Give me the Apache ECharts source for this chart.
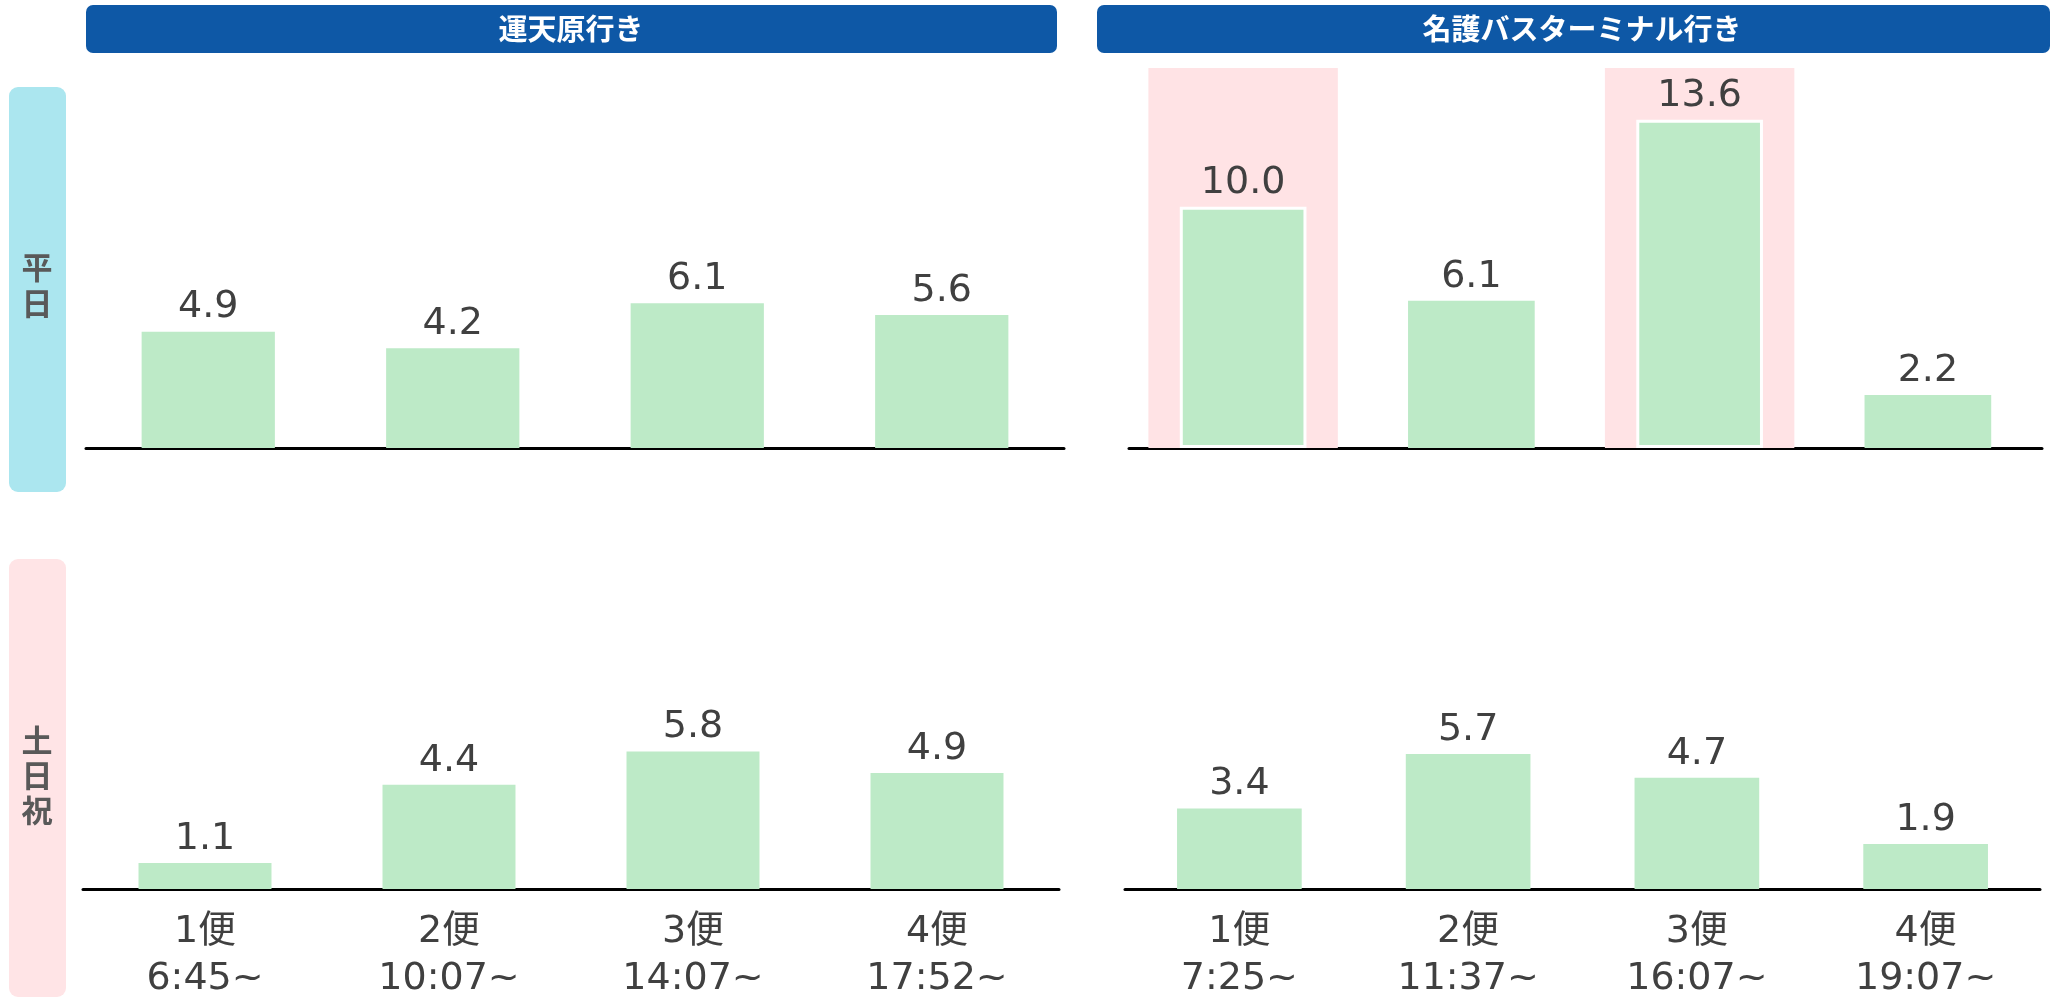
<!DOCTYPE html>
<html>
<head>
<meta charset="utf-8">
<style>
  html, body { margin: 0; padding: 0; background: #ffffff; }
  #chart { width: 2066px; height: 998px; }
</style>
<script src="https://cdn.jsdelivr.net/npm/echarts@6/dist/echarts.min.js"></script>
</head>
<body>
<div id="chart"></div>
<script>
// Departure slots for each direction
const routeTitles = ['運天原行き', '名護バスターミナル行き'];
const dayTypes = ['平日', '土日祝'];
const categoriesUntenbaru = ['1便\n6:45~', '2便\n10:07~', '3便\n14:07~', '4便\n17:52~'];
const categoriesNago = ['1便\n7:25~', '2便\n11:37~', '3便\n16:07~', '4便\n19:07~'];

// Average passengers per trip
const weekdayUntenbaru = [4.9, 4.2, 6.1, 5.6];
const weekdayNago = [10.0, 6.1, 13.6, 2.2];
const holidayUntenbaru = [1.1, 4.4, 5.8, 4.9];
const holidayNago = [3.4, 5.7, 4.7, 1.9];

// Trips emphasised with a shaded band (weekday, Nago direction)
const highlightedNago = [true, false, true, false];

const Y_MAX = 16;
const Y_MAX_WEEKDAY_NAGO = 15.75;
const FONT = '"DejaVu Sans", "Noto Sans CJK JP", sans-serif';
const CJK = '"Noto Sans CJK JP", sans-serif';
const TEXT_COLOR = '#404040';
const BAR_COLOR = '#BDEAC7';

const grids = [
  { left: 86,   right: 1002, top: 68,  height: 380 },  // weekday, 運天原
  { left: 1129, right: 24,   top: 68,  height: 380 },  // weekday, 名護
  { left: 83,   right: 1007, top: 510, height: 379 },  // holiday, 運天原
  { left: 1125, right: 26,   top: 510, height: 379 }   // holiday, 名護
].map(g => Object.assign({ outerBoundsMode: 'none', containLabel: false }, g));

function categoryAxis(gridIndex, data, showLabels) {
  return {
    type: 'category',
    gridIndex,
    data,
    axisTick: { show: false },
    axisLine: { show: true, onZero: true, lineStyle: { color: '#000000', width: 3 } },
    axisLabel: {
      show: showLabels,
      interval: 0,
      margin: 20,
      color: TEXT_COLOR,
      fontFamily: FONT,
      fontSize: 38,
      lineHeight: 47
    }
  };
}

function valueAxis(gridIndex, max) {
  return {
    type: 'value',
    gridIndex,
    min: 0,
    max,
    show: false,
    splitLine: { show: false }
  };
}

const valueLabel = {
  show: true,
  position: 'top',
  distance: 5,
  color: TEXT_COLOR,
  fontFamily: FONT,
  fontSize: 38,
  formatter: p => Number(p.value).toFixed(1)
};

function barSeries(xAxisIndex, yAxisIndex, values, width, emphasised) {
  return {
    type: 'bar',
    xAxisIndex,
    yAxisIndex,
    barWidth: width,
    z: 3,
    silent: true,
    label: valueLabel,
    itemStyle: { color: BAR_COLOR },
    data: values.map((v, i) => (emphasised && emphasised[i])
      ? { value: v, itemStyle: { borderColor: '#ffffff', borderWidth: 3 } }
      : v)
  };
}

// shaded bands run the full height of the weekday Nago panel
const highlightBand = highlightedNago.map(h => (h ? Y_MAX_WEEKDAY_NAGO : null));

const option = {
  animation: false,
  backgroundColor: '#ffffff',
  grid: grids,
  xAxis: [
    categoryAxis(0, categoriesUntenbaru, false),
    categoryAxis(1, categoriesNago, false),
    categoryAxis(2, categoriesUntenbaru, true),
    categoryAxis(3, categoriesNago, true),
    // separate hidden axis so the shaded bands get their own width
    { type: 'category', gridIndex: 1, data: categoriesNago, show: false }
  ],
  yAxis: [
    valueAxis(0, Y_MAX),
    valueAxis(1, Y_MAX_WEEKDAY_NAGO),
    valueAxis(2, Y_MAX),
    valueAxis(3, Y_MAX)
  ],
  series: [
    {
      type: 'bar',
      xAxisIndex: 4,
      yAxisIndex: 1,
      barWidth: '83%',
      z: 1,
      silent: true,
      itemStyle: { color: '#FFE3E5' },
      data: highlightBand
    },
    barSeries(0, 0, weekdayUntenbaru, '54.5%'),
    barSeries(1, 1, weekdayNago, '55.5%', highlightedNago),
    barSeries(2, 2, holidayUntenbaru, '54.5%'),
    barSeries(3, 3, holidayNago, '54.5%')
  ],
  graphic: [
    // direction headers
    {
      type: 'rect', left: 86, top: 5, z: 10,
      shape: { width: 971, height: 48, r: 7 },
      style: { fill: '#0E58A6' }
    },
    {
      type: 'text', x: 571, y: 29, z: 11,
      style: {
        text: routeTitles[0], fill: '#ffffff', font: 'bold 29px ' + CJK,
        align: 'center', verticalAlign: 'middle'
      }
    },
    {
      type: 'rect', left: 1097, top: 5, z: 10,
      shape: { width: 953, height: 48, r: 7 },
      style: { fill: '#0E58A6' }
    },
    {
      type: 'text', x: 1582, y: 29, z: 11,
      style: {
        text: routeTitles[1], fill: '#ffffff', font: 'bold 29px ' + CJK,
        align: 'center', verticalAlign: 'middle'
      }
    },
    // day-type side tabs
    {
      type: 'rect', left: 9, top: 87, z: 10,
      shape: { width: 57, height: 405, r: 9 },
      style: { fill: '#ABE6EF' }
    },
    {
      type: 'text', x: 37, y: 285, z: 11,
      style: {
        text: dayTypes[0].split('').join('\n'), fill: '#595959',
        font: 'bold 31px ' + CJK, lineHeight: 36,
        align: 'center', verticalAlign: 'middle'
      }
    },
    {
      type: 'rect', left: 9, top: 559, z: 10,
      shape: { width: 57, height: 438, r: 9 },
      style: { fill: '#FFE4E6' }
    },
    {
      type: 'text', x: 37, y: 775, z: 11,
      style: {
        text: dayTypes[1].split('').join('\n'), fill: '#595959',
        font: 'bold 31px ' + CJK, lineHeight: 35,
        align: 'center', verticalAlign: 'middle'
      }
    }
  ]
};

const chart = echarts.init(document.getElementById('chart'), null, { renderer: 'canvas' });
chart.setOption(option);
</script>
</body>
</html>
